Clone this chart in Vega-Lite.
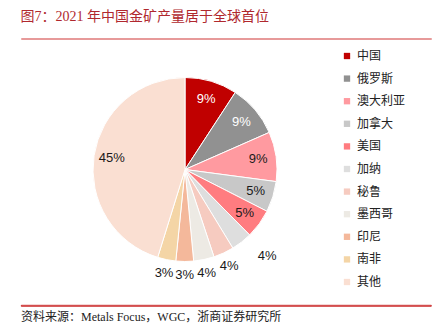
{
  "$schema": "https://vega.github.io/schema/vega-lite/v6.json",
  "padding": {"left": 20, "top": 9, "right": 4, "bottom": 2},
  "title": {"text": "图7：2021 年中国金矿产量居于全球首位", "anchor": "start", "font": "Liberation Serif, Noto Sans CJK SC", "fontSize": 14, "fontWeight": "normal", "color": "#B0282E", "offset": 14},
  "config": {"view": {"stroke": null}, "concat": {"spacing": 4}},
  "resolve": {"legend": {"color": "independent"}},
  "datasets": {
    "gold": [
      {"rank": 1, "name": "中国", "share": 0.092},
      {"rank": 2, "name": "俄罗斯", "share": 0.092},
      {"rank": 3, "name": "澳大利亚", "share": 0.087},
      {"rank": 4, "name": "加拿大", "share": 0.054},
      {"rank": 5, "name": "美国", "share": 0.051},
      {"rank": 6, "name": "加纳", "share": 0.037},
      {"rank": 7, "name": "秘鲁", "share": 0.036},
      {"rank": 8, "name": "墨西哥", "share": 0.036},
      {"rank": 9, "name": "印尼", "share": 0.031},
      {"rank": 10, "name": "南非", "share": 0.032},
      {"rank": 11, "name": "其他", "share": 0.452}
    ]
  },
  "vconcat": [
    {"width": 410, "height": 1, "data": {"values": []}, "mark": "point", "view": {"stroke": "#E79A9A", "strokeWidth": 1}},
    {
      "width": 328, "height": 255,
      "data": {"name": "gold"},
      "encoding": {
        "theta": {"field": "share", "type": "quantitative", "stack": true},
        "order": {"field": "rank", "type": "quantitative"}
      },
      "layer": [
        {
          "mark": {"type": "arc", "outerRadius": 92, "stroke": "white", "strokeWidth": 1, "yOffset": -3},
          "encoding": {
            "color": {
              "field": "name", "type": "nominal",
              "scale": {
                "domain": ["中国", "俄罗斯", "澳大利亚", "加拿大", "美国", "加纳", "秘鲁", "墨西哥", "印尼", "南非", "其他"],
                "range": ["#C00000", "#919191", "#FF9AA0", "#C8C8C8", "#FF7C80", "#DEDEDE", "#F6CBC0", "#EDEAE4", "#F4B89B", "#F4D5A6", "#FADFD2"]
              },
              "legend": {"title": null, "orient": "right", "symbolType": "square", "symbolSize": 40, "symbolStrokeWidth": 0, "labelFont": "Noto Sans CJK SC", "labelFontSize": 12, "labelColor": "#222222", "rowPadding": 10.6, "offset": -13, "labelOffset": 4, "padding": 5}
            }
          }
        },
        {
          "mark": {"type": "text", "radius": 74, "font": "Liberation Sans", "fontSize": 13, "yOffset": -3},
          "encoding": {
            "detail": {"field": "name"},
            "text": {"condition": {"test": "datum.share >= 0.05", "field": "share", "type": "quantitative", "format": ".0%"}, "value": ""},
            "color": {"condition": {"test": "datum.rank <= 2", "value": "white"}, "value": "#1a1a1a"}
          }
        },
        {
          "mark": {"type": "text", "radius": 105, "font": "Liberation Sans", "fontSize": 13, "color": "#1a1a1a", "yOffset": -2},
          "encoding": {
            "detail": {"field": "name"},
            "text": {"condition": {"test": "datum.share < 0.05 && datum.name != '加纳'", "field": "share", "type": "quantitative", "format": ".0%"}, "value": ""}
          }
        },
        {
          "mark": {"type": "text", "radius": 120, "thetaOffset": -0.09, "font": "Liberation Sans", "fontSize": 13, "color": "#1a1a1a", "yOffset": -4},
          "encoding": {
            "detail": {"field": "name"},
            "text": {"condition": {"test": "datum.name == '加纳'", "field": "share", "type": "quantitative", "format": ".0%"}, "value": ""}
          }
        }
      ]
    },
    {"width": 410, "height": 1, "data": {"values": []}, "mark": "point", "view": {"stroke": "#C00000", "strokeWidth": 0.8},
     "title": {"text": "资料来源：Metals Focus，WGC，浙商证券研究所", "orient": "bottom", "anchor": "start", "font": "Liberation Serif, Noto Sans CJK SC", "fontSize": 12, "fontWeight": "normal", "color": "#222222", "offset": 6}}
  ]
}
